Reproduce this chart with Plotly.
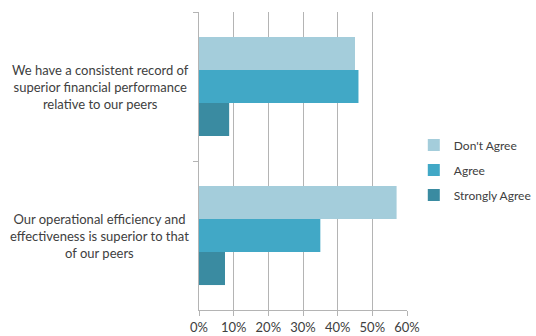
import plotly.graph_objects as go

# Survey statements (shown top to bottom)
statements = [
    "We have a consistent record of<br>superior financial performance<br>relative to our peers",
    "Our operational efficiency and<br>effectiveness is superior to that<br>of our peers",
]
statement_keys = ["financial", "operational"]

# Share of respondents per answer
dont_agree = [0.45, 0.57]
agree = [0.46, 0.35]
strongly_agree = [0.087, 0.075]

series = [
    ("Don't Agree", dont_agree, "#a4cddb"),
    ("Agree", agree, "#41a8c6"),
    ("Strongly Agree", strongly_agree, "#3a8ba1"),
]

x_ticks = [0, 0.1, 0.2, 0.3, 0.4, 0.5, 0.6]

font_family = "Lato, 'Open Sans', sans-serif"
text_color = "#404040"
grid_color = "#b4b4b4"

fig = go.Figure()
for i, (name, values, color) in enumerate(series):
    fig.add_trace(go.Bar(
        name=name,
        y=statement_keys,
        x=values,
        orientation="h",
        marker=dict(color=color, line=dict(width=0)),
        legendgroup=f"g{i}",
    ))

# Centred multi-line category labels, placed on the category axis
for key, label in zip(statement_keys, statements):
    fig.add_annotation(
        x=-0.04, xref="paper", xanchor="right",
        y=key, yref="y", yanchor="middle",
        text=label, showarrow=False, align="center",
        font=dict(family=font_family, size=13, color=text_color),
    )

fig.update_layout(
    width=536, height=336,
    margin=dict(l=199, r=129, t=12, b=26, autoexpand=False),
    paper_bgcolor="white", plot_bgcolor="white",
    barmode="group", bargap=0.335, bargroupgap=0,
    font=dict(family=font_family, size=13, color=text_color),
    legend=dict(
        xref="container", x=0.772, xanchor="left",
        y=0.47, yanchor="middle",
        traceorder="grouped", tracegroupgap=6,
        font=dict(family=font_family, size=12, color=text_color),
        itemwidth=30, bgcolor="rgba(0,0,0,0)",
    ),
    xaxis=dict(
        range=[0, 0.6], tickvals=x_ticks, tickformat=".0%",
        showgrid=True, gridcolor=grid_color, gridwidth=1,
        showline=True, linecolor=grid_color, linewidth=1,
        ticks="outside", ticklen=5, tickcolor=grid_color,
        zeroline=False, tickfont=dict(size=13),
    ),
    yaxis=dict(
        type="category", autorange="reversed",
        showticklabels=False, showgrid=False,
        showline=True, linecolor=grid_color, linewidth=1,
        ticks="outside", ticklen=5, tickcolor=grid_color,
        tickson="boundaries", zeroline=False,
    ),
)

fig.write_html("out.html")
